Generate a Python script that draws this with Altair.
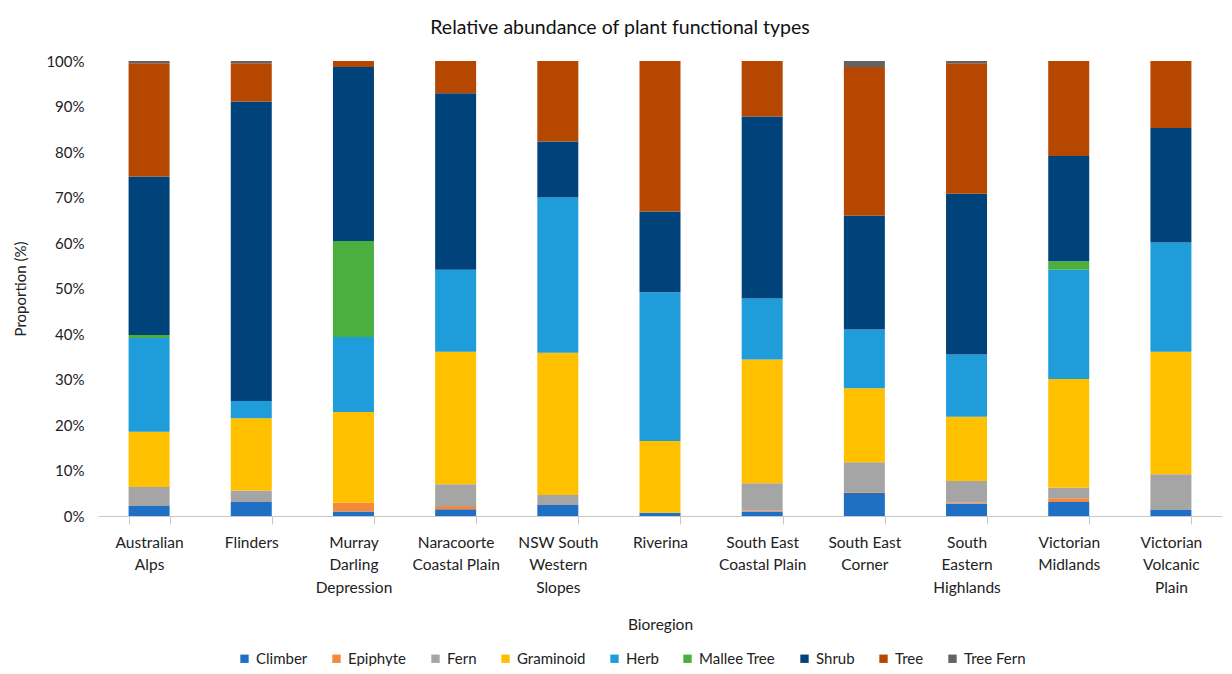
import altair as alt
import pandas as pd
import json

categories = ["Australian Alps", "Flinders", "Murray Darling Depression", "Naracoorte Coastal Plain",
              "NSW South Western Slopes", "Riverina", "South East Coastal Plain", "South East Corner",
              "South Eastern Highlands", "Victorian Midlands", "Victorian Volcanic Plain"]
label_lines = [["Australian", "Alps"], ["Flinders"], ["Murray", "Darling", "Depression"],
               ["Naracoorte", "Coastal Plain"], ["NSW South", "Western", "Slopes"], ["Riverina"],
               ["South East", "Coastal Plain"], ["South East", "Corner"], ["South", "Eastern", "Highlands"],
               ["Victorian", "Midlands"], ["Victorian", "Volcanic", "Plain"]]

types = ["Climber", "Epiphyte", "Fern", "Graminoid", "Herb", "Mallee Tree", "Shrub", "Tree", "Tree Fern"]
colors = ["#1F6FC5", "#F5883A", "#A5A5A5", "#FFC000", "#1F9DDB", "#4AAF3E", "#00427A", "#B54700", "#636363"]

climber   = [2.2, 3.1, 1.0, 1.5, 2.4, 0.7, 1.0, 5.1, 2.7, 3.1, 1.3]
epiphyte  = [0.0, 0.0, 1.9, 0.7, 0.0, 0.0, 0.2, 0.2, 0.2, 0.8, 0.0]
fern      = [4.2, 2.5, 0.0, 4.8, 2.2, 0.0, 6.0, 6.5, 4.8, 2.3, 7.9]
graminoid = [12.1, 15.9, 20.0, 29.1, 31.3, 15.8, 27.2, 16.3, 14.1, 23.9, 26.9]
herb      = [20.6, 3.8, 16.5, 18.0, 34.1, 32.7, 13.4, 12.9, 13.7, 24.0, 24.0]
mallee    = [0.7, 0.0, 21.1, 0.0, 0.0, 0.0, 0.0, 0.0, 0.0, 1.9, 0.0]
shrub     = [34.8, 65.8, 38.3, 38.8, 12.3, 17.7, 40.0, 25.0, 35.3, 23.1, 25.2]
tree      = [24.9, 8.4, 1.3, 7.1, 17.7, 33.1, 12.2, 32.7, 28.7, 20.9, 14.7]
tree_fern = [0.5, 0.5, 0.0, 0.0, 0.0, 0.0, 0.0, 1.3, 0.5, 0.0, 0.0]

series = [climber, epiphyte, fern, graminoid, herb, mallee, shrub, tree, tree_fern]

rows = []
for ti, (t, vals) in enumerate(zip(types, series)):
    for c, v in zip(categories, vals):
        if v > 0:
            rows.append({"Bioregion": c, "Type": t, "Value": v, "ord": ti})
df = pd.DataFrame(rows)

lbl_map = json.dumps(dict(zip(categories, label_lines)))
label_expr = f"{lbl_map}[datum.label]"

FONT = "Lato"

chart = alt.Chart(df).mark_bar(size=41).encode(
    x=alt.X("Bioregion:N", sort=categories,
            scale=alt.Scale(paddingInner=0.6, paddingOuter=0.3),
            axis=alt.Axis(title="Bioregion", labelAngle=0, labelExpr=label_expr,
                          labelFontSize=15.5, labelLineHeight=22.5, labelColor="#222222",
                          labelPadding=11, labelBaseline="top",
                          tickBand="extent", tickSize=8, tickColor="#C8C8C8",
                          domainColor="#C8C8C8", titleFontSize=15.5, titleFontWeight="normal",
                          titleColor="#222222", titlePadding=22, labelFont=FONT, titleFont=FONT)),
    y=alt.Y("Value:Q", stack="normalize",
            scale=alt.Scale(domain=[0, 1]),
            axis=alt.Axis(title="Proportion (%)", format=".0%", values=[i / 10 for i in range(11)],
                          grid=False, domain=False, ticks=False, labelPadding=14,
                          labelFontSize=15, labelColor="#222222", titleFontSize=15,
                          titleFontWeight="normal", titleColor="#222222", titlePadding=17,
                          labelFont=FONT, titleFont=FONT)),
    color=alt.Color("Type:N", scale=alt.Scale(domain=types, range=colors),
                    legend=alt.Legend(title=None, orient="none", direction="horizontal", columns=9,
                                      legendX=139, legendY=590, symbolType="square", symbolSize=70,
                                      labelFontSize=15, labelFont=FONT, labelColor="#222222",
                                      columnPadding=21, symbolStrokeWidth=0)),
    order=alt.Order("ord:Q", sort="ascending"),
).properties(
    width=1124, height=455,
    title=alt.TitleParams("Relative abundance of plant functional types", fontSize=19.5,
                          fontWeight="normal", font=FONT, color="#111111", dx=-40, offset=16),
    autosize=alt.AutoSizeParams(type="none"),
    padding={"left": 90, "top": 53, "right": 0, "bottom": 150},
).configure_view(stroke=None)

chart.save("out.html", embed_options={"renderer": "svg", "actions": False})
